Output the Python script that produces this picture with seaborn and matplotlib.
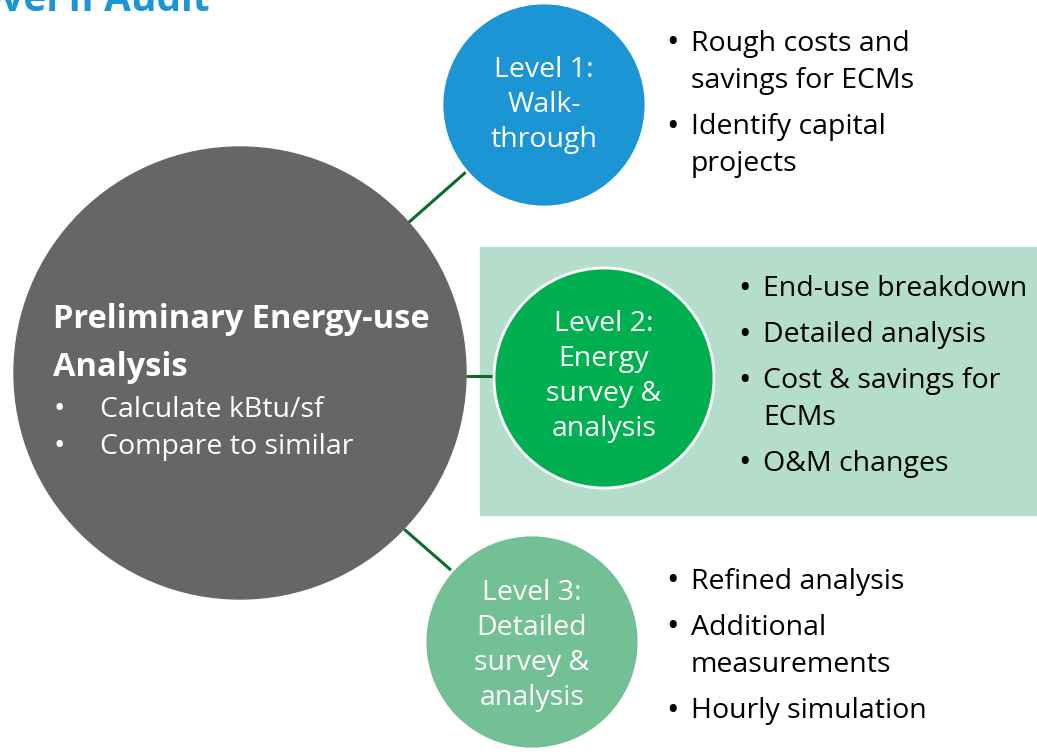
import matplotlib
matplotlib.use("Agg")
import matplotlib.pyplot as plt
import seaborn as sns
from matplotlib.patches import Circle, Rectangle

# --- diagram content ---
title = "Level II Audit"
center_heading = ["Preliminary Energy-use", "Analysis"]
center_bullets = ["Calculate kBtu/sf", "Compare to similar"]

level_titles = ["Level 1:", "Level 2:", "Level 3:"]
level_subtitles = [
    ["Walk-", "through"],
    ["Energy", "survey &", "analysis"],
    ["Detailed", "survey &", "analysis"],
]
level_bullets = [
    [["Rough costs and", "savings for ECMs"], ["Identify capital", "projects"]],
    [["End-use breakdown"], ["Detailed analysis"], ["Cost & savings for", "ECMs"], ["O&M changes"]],
    [["Refined analysis"], ["Additional", "measurements"], ["Hourly simulation"]],
]
level_colors = ["#1b95d4", "#00af50", "#74c095"]

sns.set_theme(style="white")
plt.rcParams['font.family'] = ['Open Sans', 'DejaVu Sans']

fig = plt.figure(figsize=(10.37, 7.52), dpi=100)
ax = fig.add_axes([0, 0, 1, 1])
ax.set_xlim(0, 1037)
ax.set_ylim(752, 0)
ax.set_aspect('equal')
ax.axis('off')

line_color = "#0b6b2c"

# background panel behind level 2
ax.add_patch(Rectangle((480, 247), 557, 268, color="#b4decb", zorder=0))

# connectors
for (x0, y0), (x1, y1) in [((408, 223), (466, 172)), ((467, 376), (496, 376)), ((405, 530), (452, 571))]:
    ax.plot([x0, x1], [y0, y1], color=line_color, lw=2.2, zorder=1)

# central circle
ax.add_patch(Circle((240, 373), 226, color="#666666", zorder=2))
ax.text(53, 320, center_heading[0], color="white", fontsize=23.5, fontweight="bold", va="center", zorder=3)
ax.text(53, 367, center_heading[1], color="white", fontsize=23.5, fontweight="bold", va="center", zorder=3)
for i, b in enumerate(center_bullets):
    y = 410 + i * 37
    ax.text(53, y, "•", color="white", fontsize=22, va="center", zorder=3)
    ax.text(100, y, b, color="white", fontsize=20.5, va="center", zorder=3)

# level circles
centers = [(544, 105), (604, 378), (532, 642)]
radii = [102, 110, 107]
title_y = [70, 324, 593]
bullet_x = [666, 738, 666]
bullet_start = [44, 289, 582]

for k in range(3):
    cx, cy = centers[k]
    ax.add_patch(Circle((cx, cy), radii[k], facecolor=level_colors[k],
                        edgecolor="white", lw=2, zorder=2))
    ax.text(cx, title_y[k], level_titles[k], color="white", fontsize=20.5,
            ha="center", va="center", zorder=3)
    for j, s in enumerate(level_subtitles[k]):
        ax.text(cx, title_y[k] + 35 * (j + 1), s, color="white", fontsize=20.5,
                ha="center", va="center", zorder=3)

    y = bullet_start[k]
    for item in level_bullets[k]:
        ax.text(bullet_x[k], y, "•", color="black", fontsize=24, va="center", zorder=3)
        for line in item:
            ax.text(bullet_x[k] + 25, y, line, color="black", fontsize=20.5, va="center", zorder=3)
            y += 37
        y += 9

# title at the top, partly cut off by the figure edge as in the source slide
ax.text(210, 11, title, color="#1b95d4", fontsize=28, fontweight="bold",
        ha="right", va="baseline", zorder=3)

fig.savefig("out.png", dpi=100)
